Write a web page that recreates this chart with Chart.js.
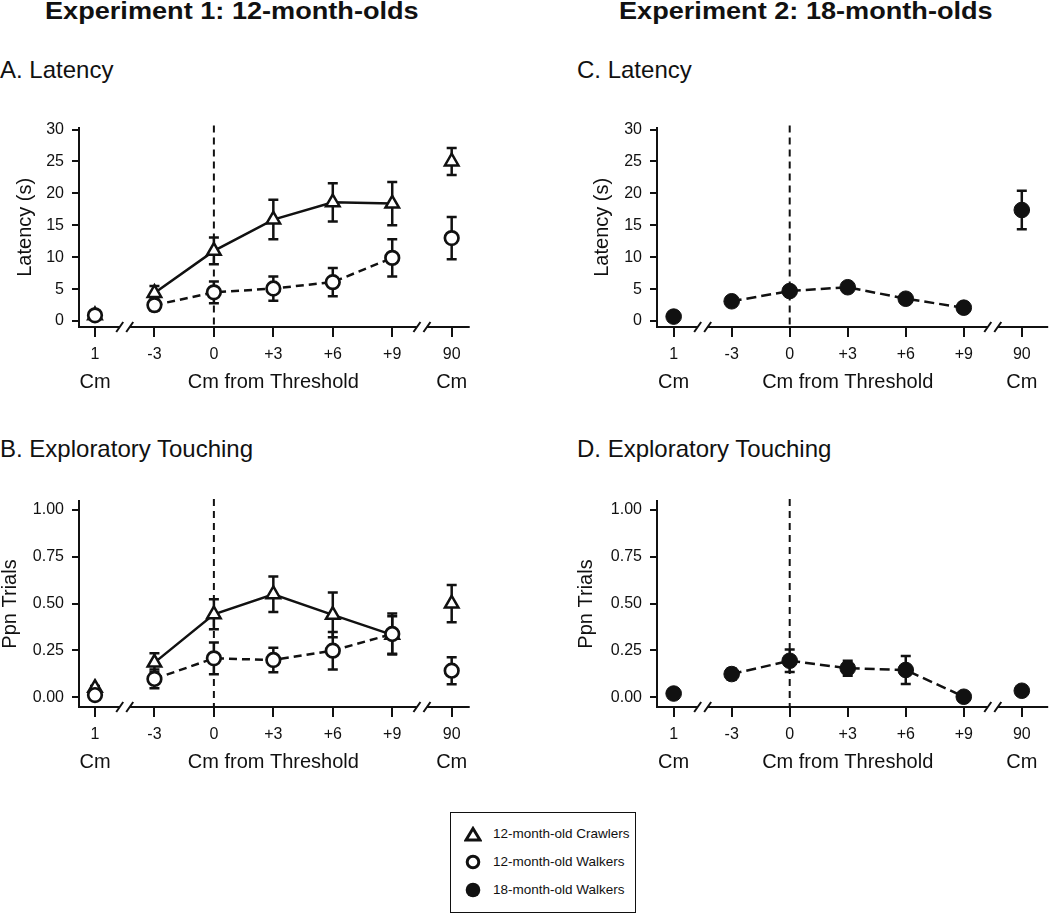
<!DOCTYPE html>
<html>
<head>
<meta charset="utf-8">
<script src="https://cdn.jsdelivr.net/npm/chart.js@4.4.1/dist/chart.umd.min.js"></script>
<style>
  html, body { margin:0; padding:0; background:#fff; width:1050px; height:917px; overflow:hidden; }
  body { position:relative; font-family:"Liberation Sans", Arial, Helvetica, sans-serif; color:#111; }
  .t { position:absolute; white-space:nowrap; line-height:1; }
  .main { font-weight:bold; font-size:24px; transform:scaleX(1.13); transform-origin:left center; }
  .sub { font-size:24px; }
  canvas { position:absolute; }
  #legend { position:absolute; left:450px; top:812px; width:186px; height:101px; border:1.5px solid #111; box-sizing:border-box; }
  .lrow { position:absolute; left:0; height:20px; font-size:13.5px; line-height:20px; white-space:nowrap; }
  .lrow svg { position:absolute; left:13px; top:2px; }
  .lrow span { position:absolute; left:42px; top:0; }
</style>
</head>
<body>
<div class="t main" style="left:45px; top:-1px;">Experiment 1: 12-month-olds</div>
<div class="t main" style="left:619px; top:-1px;">Experiment 2: 18-month-olds</div>
<div class="t sub" style="left:0px; top:58px;">A. Latency</div>
<div class="t sub" style="left:577px; top:58px;">C. Latency</div>
<div class="t sub" style="left:0px; top:437px;">B. Exploratory Touching</div>
<div class="t sub" style="left:577px; top:437px;">D. Exploratory Touching</div>

<canvas id="cA" width="480" height="290" style="left:0px; top:110px;"></canvas>
<canvas id="cB" width="480" height="300" style="left:0px; top:480px;"></canvas>
<canvas id="cC" width="480" height="290" style="left:577px; top:110px;"></canvas>
<canvas id="cD" width="480" height="300" style="left:577px; top:480px;"></canvas>

<div id="legend"></div>

<script>
// ---------------- DATA ----------------
const xLabels    = ['1', '-3', '0', '+3', '+6', '+9', '90'];
const xSubLabels = ['Cm', '', '', 'Cm from Threshold', '', '', 'Cm'];
const thresholdLabel = '0';
const latencyTicks = [0, 5, 10, 15, 20, 25, 30];
const ppnTicks = [0, 0.25, 0.5, 0.75, 1];
const seriesNames = ['12-month-old Crawlers', '12-month-old Walkers', '18-month-old Walkers'];

// Latency (s)
const lat12Crawlers    = [0.9, 4.4, 11.0, 15.9, 18.6, 18.4, 25.0];
const lat12CrawlersErr = [0.3, 1.1, 2.1, 3.1, 3.0, 3.4, 2.1];
const lat12Walkers     = [0.9, 2.5, 4.5, 5.1, 6.1, 9.9, 13.0];
const lat12WalkersErr  = [0.3, 0.9, 1.7, 1.9, 2.2, 2.9, 3.3];
const lat18Walkers     = [0.7, 3.1, 4.7, 5.3, 3.5, 2.1, 17.4];
const lat18WalkersErr  = [0.3, 0.5, 0.7, 0.7, 0.5, 0.8, 3.0];

// Exploratory touching (proportion of trials)
const ppn12Crawlers    = [0.05, 0.185, 0.443, 0.55, 0.44, 0.333, 0.50];
const ppn12CrawlersErr = [0.01, 0.05, 0.08, 0.095, 0.12, 0.10, 0.10];
const ppn12Walkers     = [0.012, 0.098, 0.208, 0.199, 0.249, 0.338, 0.142];
const ppn12WalkersErr  = [0.01, 0.05, 0.085, 0.065, 0.10, 0.11, 0.072];
const ppn18Walkers     = [0.02, 0.124, 0.195, 0.155, 0.146, 0.003, 0.035];
const ppn18WalkersErr  = [0.005, 0.03, 0.06, 0.04, 0.075, 0.005, 0.005];

// ---------------- CHARTS ----------------
const FONT = '"Liberation Sans", Arial, Helvetica, sans-serif';
const INK = '#111';
const lastIdx = xLabels.length - 1;

function pts(arr) { return arr.map((v, i) => ({ x: i, y: v })); }

function hideEnds(ctx) {
  return (ctx.p0DataIndex === 0 || ctx.p1DataIndex === lastIdx) ? 'rgba(0,0,0,0)' : undefined;
}

const extras = {
  id: 'extras',
  beforeDatasetsDraw(chart) {
    const { ctx, chartArea: a, scales: { x, y } } = chart;
    ctx.save();
    const px = x.getPixelForValue(xLabels.indexOf(thresholdLabel));
    ctx.strokeStyle = INK; ctx.lineWidth = 2; ctx.setLineDash([7, 5]);
    ctx.beginPath(); ctx.moveTo(px, a.top - 2); ctx.lineTo(px, a.bottom); ctx.stroke();
    ctx.setLineDash([]);
    chart.data.datasets.forEach((ds, di) => {
      if (!ds.errors) return;
      const meta = chart.getDatasetMeta(di);
      ds.data.forEach((p, i) => {
        const e = ds.errors[i];
        if (!e) return;
        const cx = meta.data[i].x;
        const yt = y.getPixelForValue(p.y + e), yb = y.getPixelForValue(p.y - e);
        ctx.lineWidth = 2.5; ctx.strokeStyle = INK;
        ctx.beginPath();
        ctx.moveTo(cx, yt); ctx.lineTo(cx, yb);
        ctx.moveTo(cx - 5, yt); ctx.lineTo(cx + 5, yt);
        ctx.moveTo(cx - 5, yb); ctx.lineTo(cx + 5, yb);
        ctx.stroke();
      });
    });
    ctx.restore();
  },
  afterDraw(chart) {
    const { ctx, chartArea: a, scales: { x } } = chart;
    const yb = a.bottom;
    const b1 = x.getPixelForValue(0.5), b2 = x.getPixelForValue(lastIdx - 0.5);
    const g = 5;
    ctx.save();
    ctx.strokeStyle = INK; ctx.lineWidth = 2;
    ctx.beginPath();
    ctx.moveTo(a.left - 1, yb); ctx.lineTo(b1 - g, yb);
    ctx.moveTo(b1 + g, yb); ctx.lineTo(b2 - g, yb);
    ctx.moveTo(b2 + g, yb); ctx.lineTo(a.right, yb);
    [b1, b2].forEach(b => {
      [-g, g].forEach(o => { ctx.moveTo(b + o - 3.5, yb + 5); ctx.lineTo(b + o + 3.5, yb - 5); });
    });
    ctx.stroke();
    ctx.fillStyle = INK;
    ctx.font = '20px ' + FONT;
    ctx.textAlign = 'center'; ctx.textBaseline = 'middle';
    xSubLabels.forEach((t, i) => { if (t) ctx.fillText(t, x.getPixelForValue(i), yb + 55); });
    ctx.restore();
  }
};

function makePanel(id, cfg) {
  new Chart(document.getElementById(id), {
    type: 'line',
    data: { datasets: cfg.datasets },
    options: {
      responsive: false, animation: false, devicePixelRatio: 1,
      layout: { padding: { top: cfg.padTop, right: cfg.padRight, left: 0, bottom: 0 } },
      plugins: { legend: { display: false }, tooltip: { enabled: false } },
      scales: {
        x: {
          type: 'linear', min: cfg.xMin, max: cfg.xMax,
          afterBuildTicks: s => { s.ticks = xLabels.map((_, i) => ({ value: i })); },
          afterFit: s => { s.height = 73; },
          ticks: { color: INK, font: { size: 16, family: FONT }, padding: 8, maxRotation: 0, autoSkip: false,
                   callback: v => xLabels[v] },
          grid: { drawOnChartArea: false, drawTicks: true, tickLength: 10, color: INK, lineWidth: 2 },
          border: { display: false }
        },
        y: {
          type: 'linear', min: cfg.yMin, max: cfg.yMax,
          afterBuildTicks: s => { s.ticks = cfg.yTicks.map(v => ({ value: v })); },
          afterFit: s => { s.width = cfg.yWidth; },
          ticks: { color: INK, font: { size: 16, family: FONT }, padding: 8, callback: cfg.yFmt },
          grid: { drawOnChartArea: false, drawTicks: true, tickLength: 7, color: INK, lineWidth: 2 },
          border: { display: true, color: INK, width: 2 },
          title: { display: true, text: cfg.yTitle, color: INK, font: { size: 20, family: FONT },
                   padding: { top: cfg.titlePad, bottom: 0 } }
        }
      }
    },
    plugins: [extras]
  });
}

function walker12(data, err) {
  return { label: seriesNames[1], data: pts(data), errors: err,
    borderColor: INK, borderWidth: 2.5, borderDash: [8, 5], segment: { borderColor: hideEnds },
    pointStyle: 'circle', pointRadius: 6.8, pointBorderWidth: 2.7,
    pointBackgroundColor: '#fff', pointBorderColor: INK, fill: false, tension: 0 };
}
function crawler12(data, err) {
  return { label: seriesNames[0], data: pts(data), errors: err,
    borderColor: INK, borderWidth: 2.5, segment: { borderColor: hideEnds },
    pointStyle: 'triangle', pointRadius: 7.8, pointBorderWidth: 2.5,
    pointBackgroundColor: '#fff', pointBorderColor: INK, fill: false, tension: 0 };
}
function walker18(data, err) {
  return { label: seriesNames[2], data: pts(data), errors: err,
    borderColor: INK, borderWidth: 2.5, borderDash: [10, 5], segment: { borderColor: hideEnds },
    pointStyle: 'circle', pointRadius: 7.8, pointBorderWidth: 1,
    pointBackgroundColor: INK, pointBorderColor: INK, fill: false, tension: 0 };
}

const latFmt = v => String(v);
const ppnFmt = v => v.toFixed(2);

makePanel('cA', {
  datasets: [walker12(lat12Walkers, lat12WalkersErr), crawler12(lat12Crawlers, lat12CrawlersErr)],
  padTop: 15, padRight: 10, yWidth: 79, xMin: -0.269, xMax: 6.303,
  yMin: -0.928, yMax: 30.31, yTicks: latencyTicks, yFmt: latFmt, yTitle: 'Latency (s)', titlePad: 13
});
makePanel('cB', {
  datasets: [walker12(ppn12Walkers, ppn12WalkersErr), crawler12(ppn12Crawlers, ppn12CrawlersErr)],
  padTop: 21, padRight: 10, yWidth: 79, xMin: -0.269, xMax: 6.303,
  yMin: -0.0518, yMax: 1.048, yTicks: ppnTicks, yFmt: ppnFmt, yTitle: 'Ppn Trials', titlePad: -2
});
makePanel('cC', {
  datasets: [walker18(lat18Walkers, lat18WalkersErr)],
  padTop: 15, padRight: 0, yWidth: 80, xMin: -0.287, xMax: 6.455,
  yMin: -0.928, yMax: 30.31, yTicks: latencyTicks, yFmt: latFmt, yTitle: 'Latency (s)', titlePad: 13
});
makePanel('cD', {
  datasets: [walker18(ppn18Walkers, ppn18WalkersErr)],
  padTop: 21, padRight: 0, yWidth: 80, xMin: -0.287, xMax: 6.455,
  yMin: -0.0518, yMax: 1.048, yTicks: ppnTicks, yFmt: ppnFmt, yTitle: 'Ppn Trials', titlePad: -3
});

// ---------------- LEGEND ----------------
const icons = [
  '<svg width="18" height="16"><polygon points="9,2.5 16,14 2,14" fill="#fff" stroke="#111" stroke-width="3" stroke-linejoin="miter"/></svg>',
  '<svg width="18" height="16"><circle cx="9" cy="8" r="5.8" fill="#fff" stroke="#111" stroke-width="3"/></svg>',
  '<svg width="18" height="16"><circle cx="9" cy="8" r="7.3" fill="#111"/></svg>'
];
const rowTops = [11, 39, 67];
const lg = document.getElementById('legend');
seriesNames.forEach((n, i) => {
  const r = document.createElement('div');
  r.className = 'lrow';
  r.style.top = rowTops[i] + 'px';
  r.innerHTML = icons[i] + '<span>' + n + '</span>';
  lg.appendChild(r);
});
</script>
</body>
</html>
